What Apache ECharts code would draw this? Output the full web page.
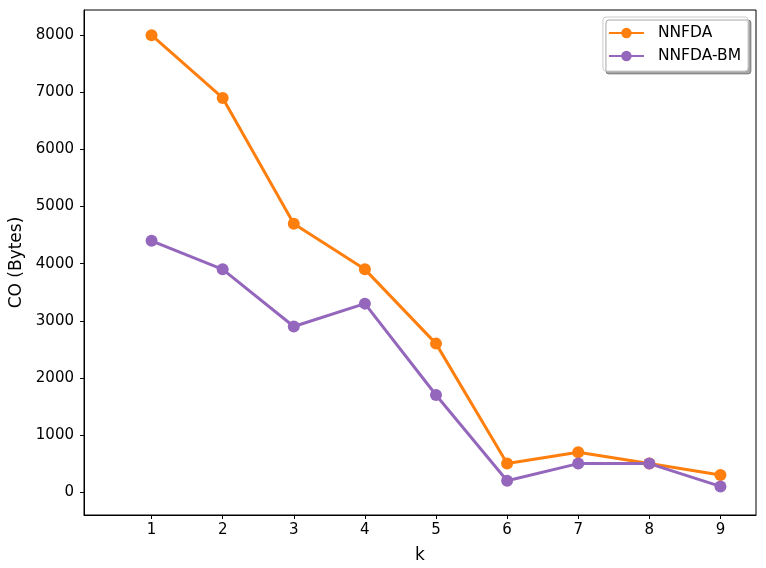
<!DOCTYPE html>
<html>
<head>
<meta charset="utf-8">
<script src="https://cdn.jsdelivr.net/npm/echarts@6/dist/echarts.min.js"></script>
<style>
  html, body { margin: 0; padding: 0; background: #fff; }
  #chart { width: 766px; height: 568px; }
</style>
</head>
<body>
<div id="chart"></div>
<script>
// data
var kValues = [1, 2, 3, 4, 5, 6, 7, 8, 9];
var nnfda = [8000, 6900, 4700, 3900, 2600, 500, 700, 500, 300];
var nnfdaBm = [4400, 3900, 2900, 3300, 1700, 200, 500, 500, 100];
var yTicks = [0, 1000, 2000, 3000, 4000, 5000, 6000, 7000, 8000];

function pairs(xs, ys) {
  return xs.map(function (x, i) { return [x, ys[i]]; });
}

var chart = echarts.init(document.getElementById('chart'));
var font = 'DejaVu Sans';
var option = {
  animation: false,
  grid: {
    left: 84,
    top: 10,
    right: 10,
    bottom: 53,
    outerBoundsMode: 'none',
    containLabel: false,
    show: true,
    borderColor: '#000',
    borderWidth: 1
  },
  legend: {
    right: 18,
    top: 17,
    orient: 'vertical',
    itemWidth: 35,
    itemHeight: 13,
    itemGap: 7,
    padding: [8, 7, 7, 5],
    backgroundColor: '#fff',
    borderColor: '#ccc',
    borderWidth: 1,
    borderRadius: 3,
    shadowColor: 'rgba(0,0,0,0.35)',
    shadowOffsetX: 3,
    shadowOffsetY: 3,
    shadowBlur: 0,
    textStyle: { fontFamily: font, fontSize: 15.5, color: '#000', padding: [0, 0, 0, 9] },
    data: ['NNFDA', 'NNFDA-BM']
  },
  xAxis: {
    type: 'value',
    min: 0.05,
    max: 9.5,
    name: 'k',
    nameLocation: 'middle',
    nameGap: 32,
    nameTextStyle: { fontFamily: font, fontSize: 17, color: '#000' },
    axisLine: { show: true, onZero: false, lineStyle: { color: '#000' } },
    axisTick: { show: true, length: 4, customValues: kValues, lineStyle: { color: '#000' } },
    axisLabel: { fontFamily: font, fontSize: 15, color: '#000', margin: 8, customValues: kValues },
    splitLine: { show: false }
  },
  yAxis: {
    type: 'value',
    min: -400,
    max: 8440,
    name: 'CO (Bytes)',
    nameLocation: 'middle',
    nameGap: 58,
    nameTextStyle: { fontFamily: font, fontSize: 17, color: '#000' },
    axisLine: { show: true, onZero: false, lineStyle: { color: '#000' } },
    axisTick: { show: true, length: 4, customValues: yTicks, lineStyle: { color: '#000' } },
    axisLabel: {
      fontFamily: font, fontSize: 15, color: '#000', margin: 10, customValues: yTicks,
      formatter: function (v) { return String(v); }
    },
    splitLine: { show: false }
  },
  series: [
    {
      name: 'NNFDA',
      type: 'line',
      color: '#ff7f0e',
      data: pairs(kValues, nnfda),
      symbol: 'circle',
      symbolSize: 12,
      lineStyle: { width: 3 }
    },
    {
      name: 'NNFDA-BM',
      type: 'line',
      color: '#9467bd',
      data: pairs(kValues, nnfdaBm),
      symbol: 'circle',
      symbolSize: 12,
      lineStyle: { width: 3 }
    }
  ]
};
chart.setOption(option);
</script>
</body>
</html>
